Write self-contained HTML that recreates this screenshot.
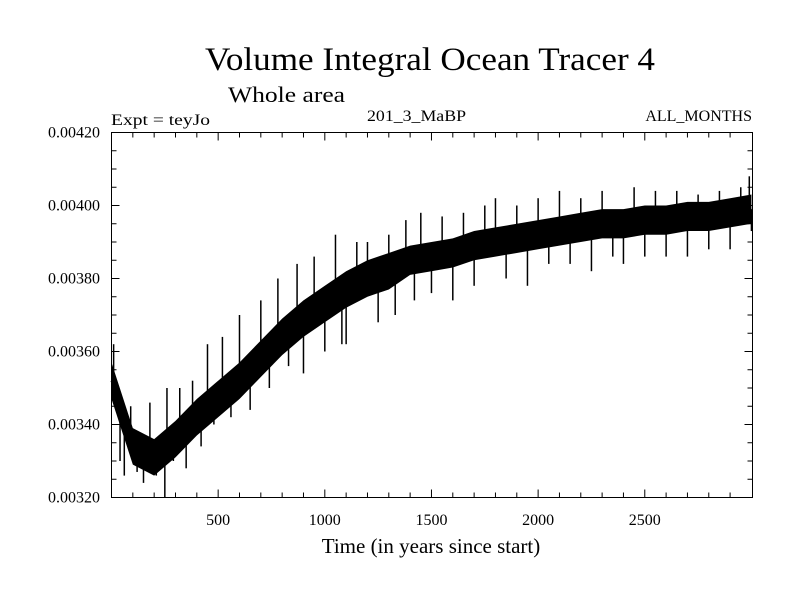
<!DOCTYPE html>
<html><head><meta charset="utf-8"><style>
body{margin:0;background:#fff}
svg text{font-family:"Liberation Serif",serif;fill:#000}
</style></head><body>
<svg id="chart" width="800" height="600" xmlns="http://www.w3.org/2000/svg">
<rect width="800" height="600" fill="#fff"/>
<text x="205" y="70" font-size="33" textLength="450" lengthAdjust="spacingAndGlyphs">Volume Integral Ocean Tracer 4</text>
<text x="228" y="102" font-size="22" textLength="117" lengthAdjust="spacingAndGlyphs">Whole area</text>
<text x="111" y="125" font-size="16" textLength="99" lengthAdjust="spacingAndGlyphs">Expt = teyJo</text>
<text x="367" y="121" font-size="16" textLength="99" lengthAdjust="spacingAndGlyphs">201_3_MaBP</text>
<text x="752" y="121" font-size="16" text-anchor="end">ALL_MONTHS</text>
<g id="plot"></g>
<rect x="111.5" y="132.5" width="641" height="365" fill="none" stroke="#000" stroke-width="1"/>
<text x="431" y="553" font-size="21" text-anchor="middle">Time (in years since start)</text>
</svg>
<script>
const years=[0,100,200,300,400,500,600,700,800,900,1000,1100,1200,1300,1400,1500,1600,1700,1800,1900,2000,2100,2200,2300,2400,2500,2600,2700,2800,2900,3000];
const meanValues=[0.00352,0.00334,0.00331,0.00336,0.00342,0.00347,0.00352,0.00358,0.00364,0.00369,0.00373,0.00377,0.00380,0.00382,0.00385,0.00386,0.00387,0.00389,0.00390,0.00391,0.00392,0.00393,0.00394,0.00395,0.00395,0.00396,0.00396,0.00397,0.00397,0.00398,0.00399];
const spreadValues=[0.00005,0.00005,0.00005,0.00005,0.00005,0.00005,0.00005,0.00005,0.00005,0.00005,0.00005,0.00005,0.00005,0.00005,0.00004,0.00004,0.00004,0.00004,0.00004,0.00004,0.00004,0.00004,0.00004,0.00004,0.00004,0.00004,0.00004,0.00004,0.00004,0.00004,0.00004];
const spikeYears=[10,40,60,90,120,150,180,210,250,260,290,320,350,380,420,450,480,520,560,600,650,700,740,780,830,870,900,950,1000,1050,1080,1100,1150,1200,1250,1300,1330,1380,1420,1450,1500,1550,1600,1650,1700,1750,1800,1850,1900,1950,2000,2050,2100,2150,2200,2250,2300,2350,2400,2450,2500,2550,2600,2650,2700,2750,2800,2850,2900,2950,2990,3000];
const spikeValues=[0.00362,0.00330,0.00326,0.00345,0.00327,0.00324,0.00346,0.00326,0.00320,0.00350,0.00330,0.00350,0.00328,0.00352,0.00334,0.00362,0.00340,0.00364,0.00342,0.00370,0.00344,0.00374,0.00350,0.00380,0.00356,0.00384,0.00354,0.00386,0.00360,0.00392,0.00362,0.00362,0.00390,0.00390,0.00368,0.00392,0.00370,0.00396,0.00374,0.00398,0.00376,0.00397,0.00374,0.00398,0.00378,0.00400,0.00402,0.00380,0.00400,0.00378,0.00402,0.00384,0.00404,0.00384,0.00402,0.00382,0.00404,0.00386,0.00384,0.00405,0.00386,0.00404,0.00386,0.00404,0.00386,0.00403,0.00388,0.00404,0.00388,0.00405,0.00408,0.00393];
const xTicks=[500,1000,1500,2000,2500];
const yTicks=[0.0032,0.0034,0.0036,0.0038,0.0040,0.0042];
const yLabels=["0.00320","0.00340","0.00360","0.00380","0.00400","0.00420"];
const L=111.5,R=752.5,T=132.5,B=497.5,X0=0,X1=3005,Y0=0.0032,Y1=0.0042;
const sx=v=>L+(v-X0)/(X1-X0)*(R-L);
const sy=v=>B-(v-Y0)/(Y1-Y0)*(B-T);
const NS="http://www.w3.org/2000/svg";
const g=document.getElementById('plot');
function mk(t,a){const e=document.createElementNS(NS,t);for(const k in a)e.setAttribute(k,a[k]);g.appendChild(e);return e;}
let pts=[];
years.forEach((y,i)=>pts.push(sx(y)+','+sy(meanValues[i]+spreadValues[i])));
for(let i=years.length-1;i>=0;i--)pts.push(sx(years[i])+','+sy(meanValues[i]-spreadValues[i]));
const band=mk('polygon',{points:pts.join(' '),fill:'#000'});


const line=mk('polyline',{points:years.map((y,i)=>sx(y)+','+sy(meanValues[i])).join(' '),fill:'none',stroke:'#000','stroke-width':2});


function meanAt(yr){for(let i=0;i<years.length-1;i++){if(yr<=years[i+1]){const f=(yr-years[i])/(years[i+1]-years[i]);return meanValues[i]+f*(meanValues[i+1]-meanValues[i]);}}return meanValues[meanValues.length-1];}
spikeYears.forEach((yr,i)=>{
  const s=mk('line',{x1:sx(yr),x2:sx(yr),y1:sy(meanAt(yr)),y2:Math.min(B,sy(spikeValues[i])),stroke:'#000','stroke-width':1.5});
  
  
});
for(let v=100;v<3000;v+=100){
  const major=v%500===0;
  mk('line',{x1:sx(v),x2:sx(v),y1:B,y2:B-(major?8:5),stroke:'#000'});
  mk('line',{x1:sx(v),x2:sx(v),y1:T,y2:T+(major?8:5),stroke:'#000'});
}
xTicks.forEach(v=>{
  const t=mk('text',{x:sx(v),y:525,'font-size':16,'text-anchor':'middle'});
  t.textContent=v;
  
  
});
for(let k=0;k<=20;k++){
  const v=Y0+k*0.00005;const major=k%4===0;
  mk('line',{x1:L,x2:L+(major?8:5),y1:sy(v),y2:sy(v),stroke:'#000'});
  mk('line',{x1:R,x2:R-(major?8:5),y1:sy(v),y2:sy(v),stroke:'#000'});
}
yTicks.forEach((v,i)=>{
  const t=mk('text',{x:100,y:sy(v)+5,'font-size':16,'text-anchor':'end'});
  t.textContent=yLabels[i];
  
  
});
</script>
</body></html>
